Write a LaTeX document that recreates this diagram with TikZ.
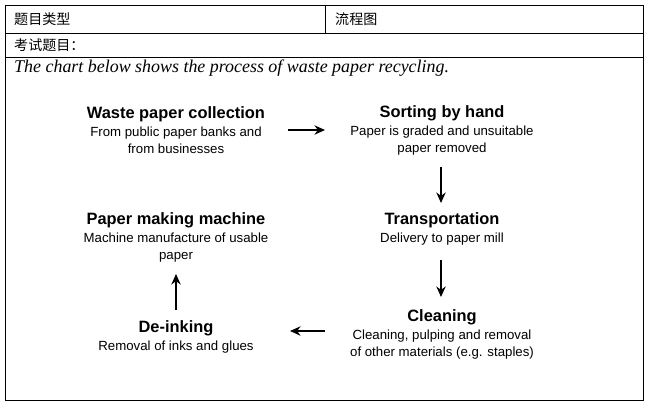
\documentclass[tikz,border=0pt]{standalone}
\usepackage{fontspec}
\setmainfont{Liberation Serif}
\newfontfamily\sansf{Liberation Sans}
\newfontfamily\cjk{Noto Sans CJK SC}
\usetikzlibrary{arrows.meta}
\tikzset{
  stage/.style={align=center,font=\sansf\fontsize{11.3}{14.5}\selectfont,inner sep=0pt},
  flow/.style={-{Stealth[length=9pt,width=8pt]},line width=2pt},
  cell/.style={anchor=west,font=\cjk\fontsize{12}{13}\selectfont,inner sep=0pt}
}
\newcommand{\stp}[2]{{\fontsize{14}{16}\selectfont\bfseries #1}\\[1pt] #2}
\begin{document}
\begin{tikzpicture}[x=0.03cm,y=-0.03cm]
\useasboundingbox (0,0) rectangle (653,406);
% table frame
\draw[line width=0.6pt] (5,5) rectangle (643,400);
\draw[line width=0.6pt] (5,33)--(643,33);
\draw[line width=0.6pt] (5,57)--(643,57);
\draw[line width=0.6pt] (325,5)--(325,33);
\node[cell] (type) at (14,19) {题目类型};
\node[cell] (kind) at (335,19) {流程图};
\node[cell] (task) at (14,45) {考试题目：};
\node[anchor=west,inner sep=0pt,font=\itshape\fontsize{15.3}{16}\selectfont] (intro) at (14,68) {The chart below shows the process of waste paper recycling.};
% steps
\node[stage] (collect) at (176,130) {\stp{Waste paper collection}{From public paper banks and\\from businesses}};
\node[stage] (sort) at (442,130) {\stp{Sorting by hand}{Paper is graded and unsuitable\\paper removed}};
\node[stage] (transport) at (442,229) {\stp{Transportation}{Delivery to paper mill}};
\node[stage] (clean) at (442,334) {\stp{Cleaning}{Cleaning, pulping and removal\\of other materials (e.g. staples)}};
\node[stage] (deink) at (176,337) {\stp{De-inking}{Removal of inks and glues}};
\node[stage] (machine) at (176,237) {\stp{Paper making machine}{Machine manufacture of usable\\paper}};
% arrows
\draw[flow] (288,130) coordinate (a1) -- (325,130) coordinate (a2);
\draw[flow] (441,167) coordinate (b1) -- (441,203) coordinate (b2);
\draw[flow] (441,260) coordinate (c1) -- (441,297) coordinate (c2);
\draw[flow] (325,331) coordinate (d1) -- (290,331) coordinate (d2);
\draw[flow] (176,310) coordinate (e1) -- (176,274) coordinate (e2);
\end{tikzpicture}
\end{document}
